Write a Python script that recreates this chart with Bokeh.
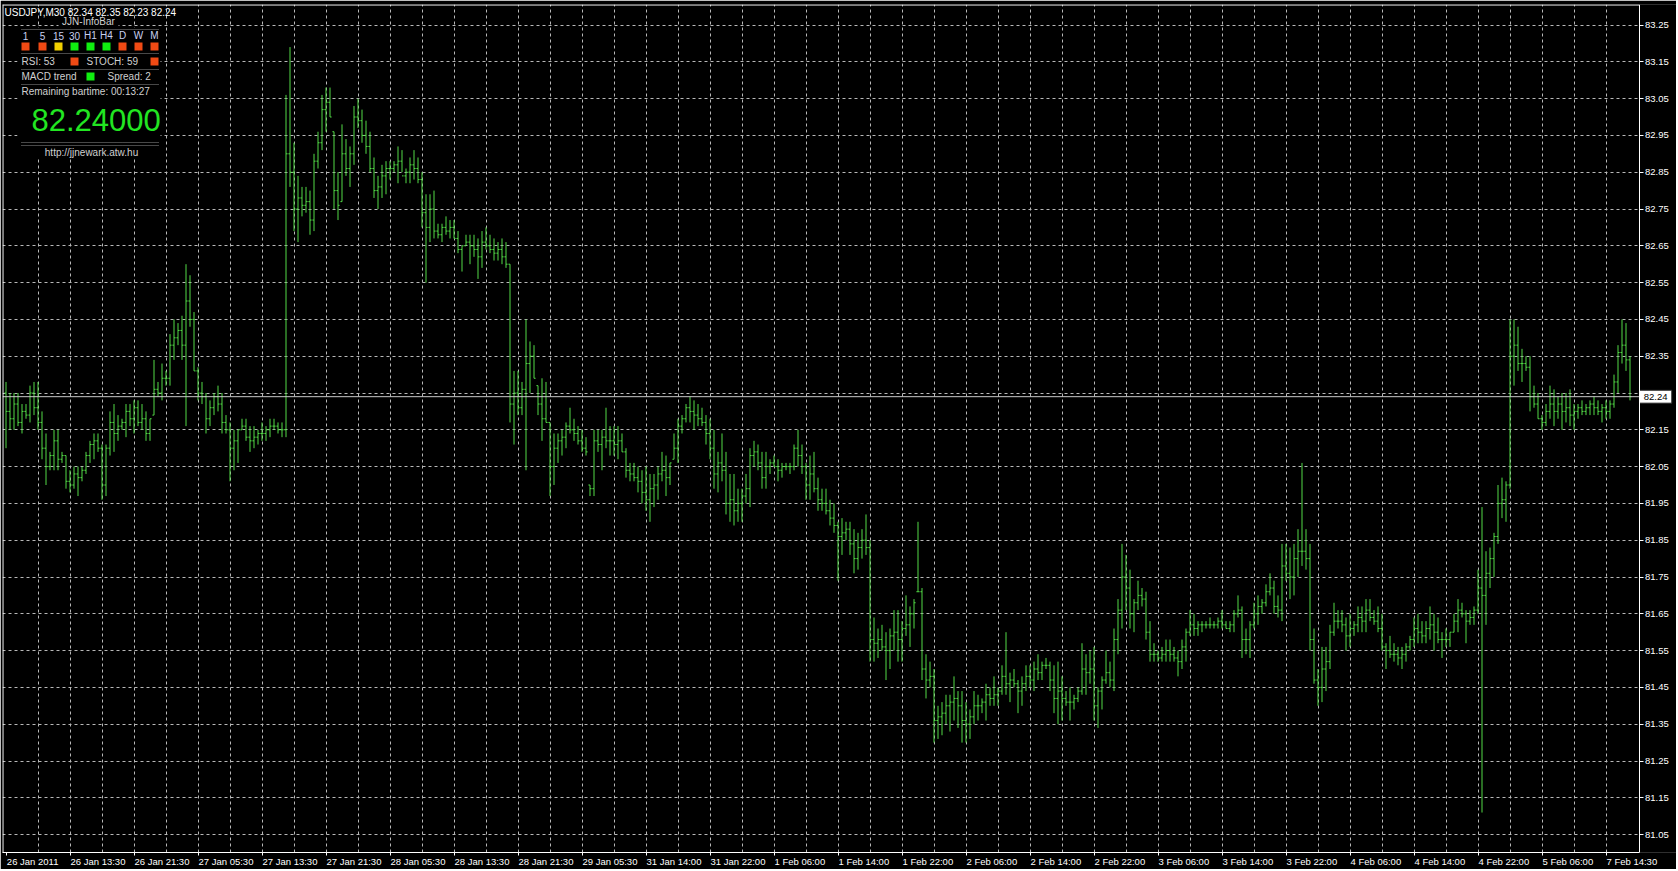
from bokeh.plotting import figure
from bokeh.models import ColumnDataSource, Range1d, FixedTicker, LinearAxis, PrintfTickFormatter
from bokeh.core.properties import value
from bokeh.embed import file_html
from bokeh.resources import INLINE

# ---------------- data (USDJPY, M30 bars) ----------------
chart_title = "USDJPY,M30  82.34 82.35 82.23 82.24"

high = [
    82.28, 82.25, 82.25, 82.25, 82.22, 82.22, 82.27, 82.28, 82.28, 82.20,
    82.14, 82.09, 82.15, 82.15, 82.09, 82.08, 82.04, 82.05, 82.05, 82.05,
    82.09, 82.12, 82.14, 82.14, 82.11, 82.11, 82.20, 82.22, 82.19, 82.18,
    82.22, 82.22, 82.23, 82.23, 82.22, 82.20, 82.18, 82.34, 82.28, 82.33,
    82.31, 82.41, 82.45, 82.44, 82.46, 82.60, 82.57, 82.47, 82.32, 82.28,
    82.25, 82.23, 82.25, 82.27, 82.25, 82.19, 82.17, 82.15, 82.15, 82.18,
    82.18, 82.16, 82.16, 82.15, 82.17, 82.16, 82.18, 82.18, 82.17, 82.17,
    83.06, 83.19, 82.93, 82.84, 82.81, 82.81, 82.80, 82.90, 82.96, 83.06,
    83.08, 83.08, 82.96, 82.85, 82.98, 82.94, 82.92, 83.03, 83.05, 83.02,
    82.99, 82.96, 82.89, 82.84, 82.87, 82.88, 82.88, 82.88, 82.92, 82.91,
    82.86, 82.89, 82.91, 82.89, 82.85, 82.79, 82.79, 82.80, 82.71, 82.71,
    82.73, 82.72, 82.72, 82.69, 82.65, 82.68, 82.68, 82.68, 82.67, 82.69,
    82.70, 82.68, 82.67, 82.66, 82.67, 82.66, 82.60, 82.31, 82.31, 82.28,
    82.45, 82.39, 82.38, 82.27, 82.29, 82.28, 82.17, 82.14, 82.14, 82.15,
    82.17, 82.21, 82.18, 82.16, 82.15, 82.13, 82.00, 82.15, 82.15, 82.15,
    82.21, 82.16, 82.16, 82.16, 82.14, 82.10, 82.06, 82.06, 82.05, 82.04,
    82.05, 82.03, 82.03, 82.05, 82.09, 82.08, 82.06, 82.14, 82.18, 82.19,
    82.22, 82.24, 82.23, 82.22, 82.21, 82.19, 82.18, 82.15, 82.09, 82.14,
    82.09, 82.03, 82.03, 81.99, 81.99, 82.03, 82.10, 82.12, 82.11, 82.09,
    82.09, 82.07, 82.08, 82.07, 82.06, 82.06, 82.06, 82.11, 82.15, 82.11,
    82.06, 82.08, 82.09, 82.02, 81.99, 81.99, 81.96, 81.95, 81.90, 81.91,
    81.90, 81.90, 81.88, 81.87, 81.88, 81.92, 81.85, 81.64, 81.61, 81.62,
    81.60, 81.61, 81.66, 81.66, 81.63, 81.70, 81.67, 81.69, 81.90, 81.72,
    81.54, 81.52, 81.50, 81.40, 81.41, 81.43, 81.43, 81.48, 81.44, 81.44,
    81.41, 81.39, 81.44, 81.43, 81.42, 81.46, 81.45, 81.48, 81.45, 81.51,
    81.60, 81.49, 81.50, 81.47, 81.48, 81.51, 81.51, 81.52, 81.54, 81.52,
    81.53, 81.52, 81.51, 81.52, 81.48, 81.44, 81.45, 81.43, 81.45, 81.57,
    81.54, 81.55, 81.56, 81.45, 81.48, 81.55, 81.52, 81.61, 81.69, 81.84,
    81.81, 81.77, 81.69, 81.74, 81.72, 81.71, 81.63, 81.57, 81.55, 81.56,
    81.58, 81.58, 81.56, 81.55, 81.58, 81.61, 81.66, 81.65, 81.63, 81.63,
    81.63, 81.64, 81.63, 81.64, 81.66, 81.63, 81.63, 81.66, 81.70, 81.67,
    81.61, 81.63, 81.68, 81.70, 81.69, 81.73, 81.76, 81.74, 81.70, 81.84,
    81.84, 81.83, 81.84, 81.88, 82.06, 81.88, 81.84, 81.61, 81.50, 81.56,
    81.56, 81.62, 81.68, 81.66, 81.66, 81.64, 81.65, 81.63, 81.67, 81.67,
    81.69, 81.69, 81.66, 81.67, 81.65, 81.57, 81.59, 81.57, 81.56, 81.56,
    81.57, 81.59, 81.64, 81.65, 81.63, 81.63, 81.67, 81.65, 81.64, 81.60,
    81.61, 81.60, 81.65, 81.69, 81.68, 81.66, 81.66, 81.67, 81.77, 81.94,
    81.82, 81.83, 81.87, 82.00, 82.02, 82.01, 82.45, 82.45, 82.43, 82.37,
    82.35, 82.35, 82.27, 82.25, 82.19, 82.22, 82.27, 82.26, 82.24, 82.25,
    82.25, 82.26, 82.22, 82.22, 82.23, 82.22, 82.23, 82.24, 82.23, 82.22,
    82.23, 82.23, 82.30, 82.38, 82.45, 82.44, 82.35,
]

low = [
    82.10, 82.15, 82.15, 82.16, 82.14, 82.18, 82.17, 82.19, 82.15, 82.07,
    82.00, 82.04, 82.04, 82.04, 82.06, 81.99, 81.98, 81.99, 81.97, 82.01,
    82.03, 82.06, 82.07, 82.09, 81.96, 81.97, 82.08, 82.09, 82.12, 82.15,
    82.13, 82.16, 82.14, 82.16, 82.15, 82.12, 82.12, 82.19, 82.24, 82.23,
    82.27, 82.27, 82.34, 82.38, 82.34, 82.16, 82.43, 82.31, 82.23, 82.22,
    82.14, 82.16, 82.19, 82.20, 82.14, 82.14, 82.01, 82.04, 82.06, 82.15,
    82.12, 82.09, 82.10, 82.11, 82.12, 82.12, 82.13, 82.15, 82.14, 82.13,
    82.13, 82.81, 82.69, 82.66, 82.73, 82.74, 82.68, 82.69, 82.86, 82.91,
    82.96, 83.00, 82.75, 82.72, 82.77, 82.84, 82.81, 82.87, 82.97, 82.93,
    82.90, 82.85, 82.78, 82.75, 82.78, 82.79, 82.83, 82.85, 82.82, 82.85,
    82.82, 82.82, 82.83, 82.82, 82.70, 82.55, 82.66, 82.67, 82.67, 82.66,
    82.68, 82.67, 82.67, 82.63, 82.58, 82.65, 82.60, 82.62, 82.56, 82.59,
    82.64, 82.63, 82.61, 82.61, 82.60, 82.59, 82.17, 82.11, 82.19, 82.19,
    82.04, 82.25, 82.29, 82.19, 82.12, 82.17, 81.97, 82.00, 82.06, 82.08,
    82.10, 82.14, 82.12, 82.11, 82.09, 82.08, 81.97, 81.97, 82.09, 82.04,
    82.10, 82.08, 82.08, 82.07, 82.09, 82.02, 82.01, 82.01, 81.98, 81.95,
    81.93, 81.90, 81.94, 81.96, 82.01, 81.97, 82.00, 82.07, 82.06, 82.14,
    82.17, 82.17, 82.15, 82.16, 82.16, 82.11, 82.07, 81.99, 81.98, 82.01,
    81.92, 81.90, 81.89, 81.90, 81.90, 81.95, 81.94, 82.05, 82.04, 81.99,
    81.99, 82.03, 82.05, 82.01, 82.02, 82.04, 82.03, 82.04, 82.05, 82.03,
    81.96, 81.96, 81.98, 81.93, 81.93, 81.92, 81.89, 81.87, 81.74, 81.81,
    81.85, 81.81, 81.76, 81.77, 81.80, 81.81, 81.52, 81.52, 81.53, 81.55,
    81.47, 81.50, 81.55, 81.52, 81.52, 81.59, 81.56, 81.61, 81.71, 81.47,
    81.42, 81.45, 81.30, 81.31, 81.32, 81.35, 81.33, 81.36, 81.34, 81.30,
    81.30, 81.31, 81.35, 81.36, 81.38, 81.36, 81.40, 81.40, 81.40, 81.43,
    81.43, 81.41, 81.45, 81.38, 81.40, 81.44, 81.45, 81.44, 81.47, 81.47,
    81.50, 81.44, 81.38, 81.35, 81.36, 81.40, 81.36, 81.39, 81.41, 81.43,
    81.43, 81.46, 81.36, 81.34, 81.39, 81.46, 81.45, 81.44, 81.54, 81.61,
    81.66, 81.61, 81.60, 81.66, 81.67, 81.58, 81.52, 81.52, 81.52, 81.52,
    81.52, 81.52, 81.52, 81.48, 81.50, 81.52, 81.59, 81.59, 81.59, 81.60,
    81.61, 81.61, 81.61, 81.61, 81.61, 81.61, 81.60, 81.60, 81.64, 81.53,
    81.54, 81.53, 81.61, 81.62, 81.65, 81.67, 81.70, 81.65, 81.64, 81.63,
    81.74, 81.69, 81.70, 81.75, 81.78, 81.77, 81.55, 81.46, 81.40, 81.41,
    81.44, 81.50, 81.59, 81.61, 81.60, 81.55, 81.56, 81.59, 81.60, 81.60,
    81.60, 81.63, 81.62, 81.60, 81.55, 81.50, 81.53, 81.52, 81.51, 81.50,
    81.52, 81.55, 81.56, 81.57, 81.57, 81.57, 81.58, 81.55, 81.57, 81.53,
    81.56, 81.56, 81.60, 81.60, 81.64, 81.57, 81.62, 81.62, 81.65, 81.11,
    81.62, 81.72, 81.75, 81.84, 81.91, 81.90, 81.99, 82.27, 82.31, 82.28,
    82.31, 82.20, 82.21, 82.18, 82.15, 82.16, 82.18, 82.16, 82.18, 82.15,
    82.17, 82.16, 82.15, 82.18, 82.19, 82.19, 82.19, 82.19, 82.19, 82.17,
    82.18, 82.18, 82.21, 82.25, 82.33, 82.31, 82.23,
]

open_ = [
    82.25, 82.20, 82.18, 82.22, 82.17, 82.20, 82.19, 82.25, 82.21, 82.17,
    82.10, 82.05, 82.08, 82.12, 82.07, 82.08, 82.01, 82.00, 82.03, 82.02,
    82.04, 82.08, 82.11, 82.12, 82.10, 82.00, 82.10, 82.17, 82.14, 82.16,
    82.17, 82.20, 82.18, 82.21, 82.17, 82.18, 82.14, 82.19, 82.26, 82.25,
    82.29, 82.29, 82.38, 82.40, 82.42, 82.38, 82.50, 82.45, 82.31, 82.25,
    82.24, 82.18, 82.21, 82.24, 82.22, 82.17, 82.15, 82.10, 82.12, 82.15,
    82.16, 82.13, 82.12, 82.13, 82.14, 82.14, 82.15, 82.16, 82.16, 82.15,
    82.15, 82.90, 82.85, 82.75, 82.78, 82.76, 82.77, 82.72, 82.88, 82.93,
    83.02, 83.04, 82.96, 82.80, 82.77, 82.90, 82.86, 82.90, 83.00, 82.99,
    82.95, 82.92, 82.86, 82.80, 82.81, 82.84, 82.86, 82.86, 82.87, 82.88,
    82.84, 82.85, 82.87, 82.86, 82.83, 82.74, 82.70, 82.75, 82.69, 82.68,
    82.70, 82.69, 82.70, 82.67, 82.64, 82.65, 82.66, 82.65, 82.64, 82.62,
    82.66, 82.65, 82.64, 82.63, 82.64, 82.62, 82.60, 82.22, 82.25, 82.21,
    82.26, 82.33, 82.35, 82.27, 82.22, 82.18, 82.17, 82.05, 82.10, 82.12,
    82.13, 82.16, 82.15, 82.14, 82.12, 82.10, 82.00, 81.99, 82.12, 82.11,
    82.13, 82.12, 82.12, 82.11, 82.12, 82.09, 82.04, 82.03, 82.02, 82.01,
    81.98, 81.96, 81.99, 82.00, 82.03, 82.04, 82.02, 82.07, 82.10, 82.16,
    82.18, 82.21, 82.20, 82.19, 82.18, 82.17, 82.14, 82.10, 82.03, 82.06,
    82.04, 81.95, 81.96, 81.93, 81.95, 81.97, 81.99, 82.08, 82.09, 82.06,
    82.02, 82.05, 82.06, 82.05, 82.04, 82.05, 82.05, 82.05, 82.10, 82.08,
    82.05, 82.00, 82.03, 81.99, 81.96, 81.95, 81.93, 81.91, 81.89, 81.86,
    81.87, 81.88, 81.84, 81.80, 81.83, 81.85, 81.83, 81.58, 81.57, 81.58,
    81.56, 81.55, 81.59, 81.60, 81.58, 81.61, 81.62, 81.65, 81.71, 81.71,
    81.50, 81.47, 81.48, 81.36, 81.37, 81.38, 81.40, 81.41, 81.42, 81.40,
    81.36, 81.35, 81.37, 81.40, 81.40, 81.41, 81.43, 81.42, 81.43, 81.44,
    81.48, 81.46, 81.47, 81.46, 81.44, 81.46, 81.48, 81.47, 81.50, 81.49,
    81.51, 81.51, 81.47, 81.42, 81.44, 81.42, 81.41, 81.41, 81.42, 81.44,
    81.50, 81.49, 81.50, 81.40, 81.44, 81.47, 81.49, 81.47, 81.58, 81.66,
    81.75, 81.72, 81.65, 81.68, 81.70, 81.69, 81.60, 81.54, 81.54, 81.53,
    81.54, 81.55, 81.54, 81.53, 81.52, 81.56, 81.60, 81.62, 81.61, 81.62,
    81.62, 81.62, 81.62, 81.62, 81.63, 81.62, 81.61, 81.62, 81.65, 81.66,
    81.58, 81.58, 81.62, 81.65, 81.67, 81.68, 81.71, 81.72, 81.67, 81.66,
    81.78, 81.76, 81.75, 81.80, 81.82, 81.82, 81.80, 81.58, 81.47, 81.45,
    81.50, 81.52, 81.60, 81.63, 81.63, 81.62, 81.59, 81.61, 81.62, 81.64,
    81.63, 81.66, 81.64, 81.63, 81.61, 81.56, 81.55, 81.54, 81.54, 81.53,
    81.54, 81.56, 81.58, 81.61, 81.60, 81.59, 81.61, 81.62, 81.60, 81.58,
    81.58, 81.58, 81.60, 81.63, 81.66, 81.65, 81.63, 81.64, 81.66, 81.72,
    81.70, 81.76, 81.80, 81.86, 81.95, 81.96, 82.00, 82.35, 82.38, 82.33,
    82.33, 82.32, 82.24, 82.22, 82.18, 82.17, 82.20, 82.22, 82.20, 82.22,
    82.20, 82.21, 82.19, 82.20, 82.21, 82.20, 82.21, 82.22, 82.21, 82.20,
    82.21, 82.20, 82.22, 82.28, 82.36, 82.38, 82.34,
]

close = [
    82.20, 82.18, 82.22, 82.17, 82.20, 82.19, 82.25, 82.21, 82.17, 82.10,
    82.05, 82.08, 82.12, 82.07, 82.08, 82.01, 82.00, 82.03, 82.02, 82.04,
    82.08, 82.11, 82.12, 82.10, 82.00, 82.10, 82.17, 82.14, 82.16, 82.17,
    82.20, 82.18, 82.21, 82.17, 82.18, 82.14, 82.18, 82.26, 82.25, 82.29,
    82.29, 82.38, 82.40, 82.42, 82.38, 82.50, 82.45, 82.31, 82.25, 82.24,
    82.18, 82.21, 82.24, 82.22, 82.17, 82.15, 82.10, 82.12, 82.15, 82.16,
    82.13, 82.12, 82.13, 82.14, 82.14, 82.15, 82.16, 82.16, 82.15, 82.15,
    82.90, 82.85, 82.75, 82.78, 82.76, 82.77, 82.72, 82.88, 82.93, 83.02,
    83.04, 83.00, 82.80, 82.76, 82.90, 82.86, 82.90, 83.00, 82.99, 82.95,
    82.92, 82.86, 82.80, 82.81, 82.84, 82.86, 82.86, 82.87, 82.88, 82.84,
    82.85, 82.87, 82.86, 82.83, 82.74, 82.70, 82.75, 82.69, 82.68, 82.70,
    82.69, 82.70, 82.67, 82.64, 82.65, 82.66, 82.65, 82.64, 82.62, 82.66,
    82.65, 82.64, 82.63, 82.64, 82.62, 82.60, 82.22, 82.25, 82.21, 82.26,
    82.33, 82.35, 82.29, 82.22, 82.18, 82.17, 82.05, 82.10, 82.12, 82.13,
    82.16, 82.15, 82.14, 82.12, 82.10, 82.09, 81.99, 82.12, 82.11, 82.13,
    82.12, 82.12, 82.11, 82.12, 82.09, 82.04, 82.03, 82.02, 82.01, 81.98,
    81.96, 81.99, 82.00, 82.03, 82.04, 82.02, 82.06, 82.10, 82.16, 82.18,
    82.21, 82.20, 82.19, 82.18, 82.17, 82.14, 82.10, 82.03, 82.06, 82.04,
    81.95, 81.96, 81.93, 81.95, 81.97, 81.99, 82.08, 82.09, 82.06, 82.02,
    82.05, 82.06, 82.05, 82.04, 82.05, 82.05, 82.05, 82.10, 82.08, 82.05,
    82.00, 82.03, 81.99, 81.96, 81.95, 81.93, 81.91, 81.89, 81.86, 81.87,
    81.88, 81.84, 81.80, 81.83, 81.85, 81.83, 81.58, 81.57, 81.58, 81.56,
    81.55, 81.59, 81.60, 81.58, 81.61, 81.62, 81.65, 81.68, 81.71, 81.50,
    81.47, 81.48, 81.36, 81.37, 81.38, 81.40, 81.41, 81.42, 81.40, 81.36,
    81.35, 81.37, 81.40, 81.40, 81.41, 81.43, 81.42, 81.43, 81.44, 81.48,
    81.46, 81.47, 81.46, 81.44, 81.46, 81.48, 81.47, 81.50, 81.49, 81.51,
    81.51, 81.47, 81.42, 81.44, 81.42, 81.41, 81.41, 81.42, 81.44, 81.50,
    81.49, 81.50, 81.40, 81.44, 81.47, 81.49, 81.47, 81.58, 81.66, 81.75,
    81.72, 81.65, 81.68, 81.70, 81.69, 81.60, 81.54, 81.54, 81.53, 81.54,
    81.55, 81.54, 81.53, 81.52, 81.56, 81.60, 81.62, 81.61, 81.62, 81.62,
    81.62, 81.62, 81.62, 81.63, 81.62, 81.61, 81.62, 81.65, 81.66, 81.58,
    81.58, 81.62, 81.65, 81.67, 81.68, 81.71, 81.72, 81.67, 81.66, 81.78,
    81.76, 81.75, 81.80, 81.82, 81.82, 81.80, 81.58, 81.47, 81.45, 81.50,
    81.52, 81.60, 81.63, 81.63, 81.62, 81.59, 81.61, 81.62, 81.64, 81.63,
    81.66, 81.64, 81.63, 81.61, 81.56, 81.55, 81.54, 81.54, 81.53, 81.54,
    81.56, 81.58, 81.61, 81.60, 81.59, 81.61, 81.62, 81.60, 81.58, 81.58,
    81.58, 81.60, 81.63, 81.66, 81.65, 81.63, 81.64, 81.66, 81.72, 81.70,
    81.76, 81.80, 81.86, 81.95, 81.96, 82.00, 82.35, 82.38, 82.33, 82.33,
    82.32, 82.24, 82.22, 82.18, 82.17, 82.20, 82.22, 82.20, 82.22, 82.20,
    82.21, 82.19, 82.20, 82.21, 82.20, 82.21, 82.22, 82.21, 82.20, 82.21,
    82.20, 82.22, 82.28, 82.36, 82.38, 82.34, 82.24,
]

time_labels = [
    "26 Jan 2011", "26 Jan 13:30", "26 Jan 21:30", "27 Jan 05:30", "27 Jan 13:30",
    "27 Jan 21:30", "28 Jan 05:30", "28 Jan 13:30", "28 Jan 21:30", "29 Jan 05:30",
    "31 Jan 14:00", "31 Jan 22:00", "1 Feb 06:00", "1 Feb 14:00", "1 Feb 22:00",
    "2 Feb 06:00", "2 Feb 14:00", "2 Feb 22:00", "3 Feb 06:00", "3 Feb 14:00",
    "3 Feb 22:00", "4 Feb 06:00", "4 Feb 14:00", "4 Feb 22:00", "5 Feb 06:00",
    "7 Feb 14:30",
]
BARS_PER_LABEL = 16
BARS_PER_GRID = 8
price_ticks = [round(81.05 + 0.1 * k, 2) for k in range(23)]
bid_price = 82.24

# info bar panel content
tf_names = ["1", "5", "15", "30", "H1", "H4", "D", "W", "M"]
tf_state = ["down", "down", "flat", "up", "up", "up", "down", "down", "down"]
rsi_text, stoch_text = "RSI: 53", "STOCH: 59"
macd_text, spread_text = "MACD trend", "Spread: 2"
bartime_text = "Remaining bartime:  00:13:27"
big_price = "82.24000"
url_text = "http://jjnewark.atw.hu"

# ---------------- styling / layout ----------------
FONT = "Liberation Sans"
BAR = "#52da46"
GRID = "#b8b8b8"
STATE_COL = {"down": "#f04a14", "flat": "#f0d000", "up": "#10ee10"}

n = len(high)
FRAME_LEFT, FRAME_TOP = 2, 4            # page pixels of the plot frame's top-left corner
FW, FH = 1674, 848                      # frame size in pixels (frame also spans the price scale)
CHART_W = 1636                          # width of the bar area inside the frame
PX_BAR = 4.0                            # pixels per bar
PX_PRICE = 368.0                        # pixels per 1.00 of price
XR = (-0.875, -0.875 + FW / PX_BAR)
EDGE = XR[0] + (CHART_W + 0.5) / PX_BAR  # right border of the bar area (data units)
Y_TOP = 82.15 + (429.3 - FRAME_TOP) / PX_PRICE
YR = (Y_TOP - FH / PX_PRICE, Y_TOP)

p = figure(width=FRAME_LEFT + FW, height=869, x_range=Range1d(*XR), y_range=Range1d(*YR),
           output_backend="svg", toolbar_location=None, y_axis_location=None,
           background_fill_color="black", border_fill_color="black", outline_line_color=None,
           min_border_left=FRAME_LEFT, min_border_right=0, min_border_top=FRAME_TOP,
           min_border_bottom=17)

# page pixel -> data helpers (for the overlay texts of the indicator panel)
def X(px):
    return XR[0] + (px - FRAME_LEFT) / PX_BAR

def Y(py):
    return YR[1] - (py - FRAME_TOP) / PX_PRICE

# grid
p.xgrid.ticker = FixedTicker(ticks=[BARS_PER_GRID * k for k in range(1, n // BARS_PER_GRID + 1)])
p.ygrid.ticker = FixedTicker(ticks=price_ticks)
p.grid.grid_line_color = GRID
p.grid.grid_line_dash = "3 3"
p.grid.grid_line_width = 1

# OHLC bars
idx = list(range(n))
src = ColumnDataSource(dict(x=idx, xl=[i - 0.4 for i in idx], xr=[i + 0.4 for i in idx],
                            o=open_, h=high, l=low, c=close))
p.segment(x0="x", y0="l", x1="x", y1="h", source=src, line_color=BAR, line_width=1)
p.segment(x0="xl", y0="o", x1="x", y1="o", source=src, line_color=BAR, line_width=1)
p.segment(x0="x", y0="c", x1="xr", y1="c", source=src, line_color=BAR, line_width=1)

# bid line
p.segment(x0=[XR[0]], x1=[EDGE], y0=[bid_price], y1=[bid_price], line_color="#c8c8c8", line_width=1)

# area of the price scale: black, no grid
p.quad(left=[EDGE + 0.1], right=[XR[1]], top=[YR[1]], bottom=[YR[0]], fill_color="black", line_color=None)

# chart border (top, left); right border = price axis line, bottom = time axis line
p.segment(x0=[XR[0], X(2.5)], x1=[EDGE, X(2.5)], y0=[Y(4.5), YR[0]], y1=[Y(4.5), YR[1]],
          line_color="white", line_width=1)

# bid price box on the price scale
BOX_H = 6.5 / PX_PRICE
p.quad(left=[EDGE + 0.1], right=[EDGE + 8.2], top=[bid_price + BOX_H], bottom=[bid_price - BOX_H],
       fill_color="white", line_color="#202020")
p.text(x=[EDGE + 1.2], y=[bid_price], text=[f"{bid_price:.2f}"], text_font=value(FONT),
       text_font_size="9.5px", text_color="black", text_baseline="middle", text_align="left")

# price axis drawn at the right border of the bar area
ya = LinearAxis(fixed_location=EDGE,
                ticker=FixedTicker(ticks=[t for t in price_ticks if abs(t - bid_price) > 0.02]),
                formatter=PrintfTickFormatter(format="%.2f"))
ya.major_tick_line_color = "white"
ya.major_tick_out = 4
ya.major_tick_in = 0
ya.minor_tick_line_color = None
ya.axis_line_color = "white"
ya.major_label_text_color = "white"
ya.major_label_text_font = FONT
ya.major_label_text_font_size = "9.5px"
ya.major_label_standoff = 2
p.add_layout(ya, "right")

# time axis: text starts at the tick (MT4 style)
CW = {" ": 0.278, ":": 0.278, "J": 0.5, "F": 0.611, "a": 0.556, "n": 0.556, "e": 0.556, "b": 0.556}
def text_w(s, size):
    return sum(CW.get(ch, 0.556) for ch in s) * size

label_idx = [BARS_PER_LABEL * k for k in range(len(time_labels))]
centers = [round(b + (text_w(t, 9.5) / 2 + 0.5) / PX_BAR, 3) for b, t in zip(label_idx, time_labels)]
xa = p.xaxis[0]
xa.bounds = (XR[0], EDGE)
xa.ticker = FixedTicker(ticks=centers, minor_ticks=label_idx)
xa.major_label_overrides = {c: t for c, t in zip(centers, time_labels)}
xa.major_tick_line_color = None
xa.major_tick_out = 0
xa.major_tick_in = 0
xa.minor_tick_line_color = "white"
xa.minor_tick_out = 3
xa.minor_tick_in = 0
xa.axis_line_color = "white"
xa.major_label_text_color = "white"
xa.major_label_text_font = FONT
xa.major_label_text_font_size = "9.5px"
xa.major_label_standoff = 0

# ---------------- info bar overlay ----------------
p.quad(left=[X(17)], right=[X(160)], top=[Y(27)], bottom=[Y(157)], fill_color="black", line_color=None)
p.quad(left=[X(58)], right=[X(118)], top=[Y(16)], bottom=[Y(27)], fill_color="black", line_color=None)

def txt(px, py, s, color="#d0d0d0", size="10px", align="left"):
    p.text(x=[X(px)], y=[Y(py)], text=[s], text_font=value(FONT), text_font_size=size,
           text_color=color, text_baseline="middle", text_align=align)

txt(4, 12, chart_title, color="white")
txt(88, 21, "JJN-InfoBar", color="#d0d0d0", align="center")

sep_y = [29, 53, 69, 84, 142, 145]
p.segment(x0=[X(21)] * len(sep_y), x1=[X(158)] * len(sep_y), y0=[Y(v) for v in sep_y],
          y1=[Y(v) for v in sep_y], line_color="#909090", line_dash="1 1", line_width=1)

tf_x = [25, 42, 58, 74, 90, 106, 122, 138, 154]
for xx, name in zip(tf_x, tf_names):
    txt(xx, 35, name, color="#c8d0f0", align="center")
p.scatter(x=[X(v) for v in tf_x], y=[Y(46)] * len(tf_x), marker="square", size=8,
          fill_color=[STATE_COL[s] for s in tf_state], line_color=None)

txt(21, 61, rsi_text)
txt(86, 61, stoch_text)
txt(21, 76, macd_text)
txt(107, 76, spread_text)
p.scatter(x=[X(74), X(154), X(90)], y=[Y(61), Y(61), Y(76)], marker="square", size=8,
          fill_color=[STATE_COL["down"], STATE_COL["down"], STATE_COL["up"]], line_color=None)
txt(21, 91, bartime_text)
txt(31, 119, big_price, color="#22e622", size="31px")
txt(91, 152, url_text, color="#d0d0d0", align="center")

open("out.html", "w").write(file_html(p, INLINE))
